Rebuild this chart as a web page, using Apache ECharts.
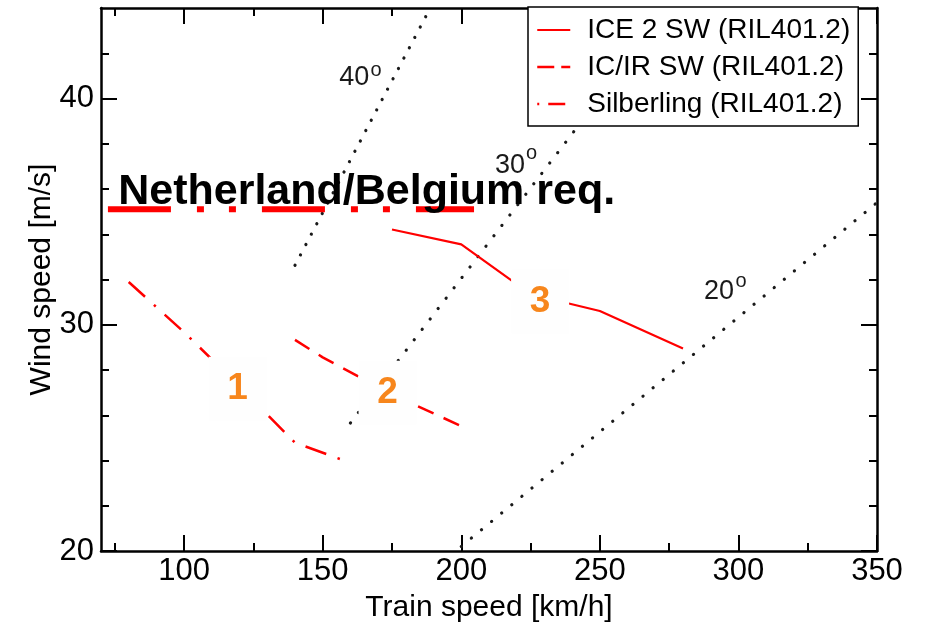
<!DOCTYPE html>
<html>
<head>
<meta charset="utf-8">
<script src="https://cdn.jsdelivr.net/npm/echarts@6/dist/echarts.min.js"></script>
<style>
  html, body { margin: 0; padding: 0; background: #fff; }
  #chart { width: 925px; height: 628px; }
</style>
</head>
<body>
<div id="chart"></div>
<script>
// Characteristic wind curves: train speed [km/h] vs. critical wind speed [m/s]
const iceSpeed  = [175, 200, 225, 250, 280];
const iceWind   = [34.21, 33.55, 31.35, 30.61, 28.95];
const icirSpeed = [140, 150, 175, 200];
const icirWind  = [29.33, 28.56, 26.92, 25.52];
const silbSpeed = [80, 100, 120, 140, 157];
const silbWind  = [31.89, 29.67, 27.27, 24.79, 24.03];

const seriesNames = ['ICE 2 SW (RIL401.2)', 'IC/IR SW (RIL401.2)', 'Silberling (RIL401.2)'];

// Constant yaw-angle reference lines: end points [speed, wind]
const yawAngles   = ['20', '30', '40'];
const yawStart    = [[200, 20.2], [160, 25.66], [140, 32.63]];
const yawEnd      = [[350, 35.4], [241, 38.6], [188.8, 44]];
const yawLabelPos = [[287.6, 31.45], [212.2, 37.04], [156.0, 40.92]];
const yawDegPos   = [[300.96, 31.90], [225.36, 37.58], [169.24, 41.26]];

// National requirement level
const reqSpeed = [72.5, 204.6];
const reqWind  = 35.1;
const reqText  = 'Netherland/Belgium req.';
const reqTextPos = [76.2, 35.85];

// Numbered region markers
const boxLabels = ['1', '2', '3'];
const boxSpeed  = [119.26, 173.39, 228.43];
const boxWind   = [27.17, 27.0, 31.03];

// Axis ticks
const xRange = [70, 350];
const yRange = [20, 44];
const xMajor = [100, 150, 200, 250, 300, 350];
const xMinor = [75, 125, 175, 225, 275, 325];
const yMajor = [20, 30, 40];
const yMinor = [22, 24, 26, 28, 32, 34, 36, 38, 42];

const FONT = 'Liberation Sans, Arial, Helvetica, sans-serif';
const RED = '#ff0000';
const ORANGE = '#f7861c';
const INK = '#1a1a1a';

const pairs = (xs, ys) => xs.map((x, i) => [x, ys[i]]);

function makeAxis(dim, pos, ticks, len, withLine, labels, extra) {
  const range = dim === 'x' ? xRange : yRange;
  return Object.assign({
    type: 'value',
    position: pos,
    min: range[0],
    max: range[1],
    axisLine: { show: withLine, lineStyle: { color: '#000', width: 2.5 } },
    axisTick: { show: true, inside: true, length: len, customValues: ticks,
                lineStyle: { color: '#000', width: 2 } },
    axisLabel: labels ? { show: true, customValues: labels, fontSize: 31, color: '#000',
                          fontFamily: FONT, margin: dim === 'x' ? 5 : 7 }
                      : { show: false },
    splitLine: { show: false }
  }, extra || {});
}

const xAxes = [
  makeAxis('x', 'bottom', xMajor, 16, true, xMajor, {
    name: 'Train speed [km/h]', nameLocation: 'middle', nameGap: 42, nameMoveOverlap: false,
    nameTextStyle: { fontSize: 30, color: '#000', fontFamily: FONT }
  }),
  makeAxis('x', 'bottom', xMinor, 8, false, null),
  makeAxis('x', 'top', xMajor, 16, true, null),
  makeAxis('x', 'top', xMinor, 8, false, null)
];
const yAxes = [
  makeAxis('y', 'left', yMajor, 16, true, yMajor, {
    name: 'Wind speed [m/s]', nameLocation: 'middle', nameGap: 44, nameMoveOverlap: false,
    nameTextStyle: { fontSize: 30, color: '#000', fontFamily: FONT }
  }),
  makeAxis('y', 'left', yMinor, 8, false, null),
  makeAxis('y', 'right', yMajor, 16, true, null),
  makeAxis('y', 'right', yMinor, 8, false, null)
];

const yawSeries = yawAngles.map((a, i) => ({
  type: 'line',
  name: 'yaw ' + a,
  data: [yawStart[i], yawEnd[i]],
  symbol: 'none',
  silent: true,
  z: 2,
  lineStyle: { color: INK, width: 3.2, type: [0.1, a === '40' ? 11.6 : 13], cap: 'round' }
}));

const curveStyles = [
  { width: 2.2, type: 'solid' },
  { width: 2.5, type: [17, 11] },
  { width: 2.5, type: [22, 12, 2.5, 12] }
];
// Shorter dash patterns for the legend samples
const legendDash = ['solid', [17, 7], [2, 9, 17, 20]];
const curveData = [pairs(iceSpeed, iceWind), pairs(icirSpeed, icirWind), pairs(silbSpeed, silbWind)];

const curveSeries = seriesNames.map((n, i) => ({
  type: 'line',
  name: n,
  data: curveData[i],
  symbol: 'none',
  z: 3,
  itemStyle: { color: RED },
  lineStyle: Object.assign({ color: RED, cap: 'butt' }, curveStyles[i])
}));

const textPoint = (text, pos, label) => ({ name: text, value: pos, label: Object.assign({
  show: true, position: 'inside', verticalAlign: 'middle', formatter: '{b}', fontFamily: FONT
}, label) });

const option = {
  animation: false,
  backgroundColor: '#fff',
  grid: { left: 101, right: 48, top: 8, bottom: 76 },
  xAxis: xAxes,
  yAxis: yAxes,
  legend: {
    data: seriesNames.map((n, i) => ({
      name: n,
      lineStyle: { type: legendDash[i], width: curveStyles[i].width, color: RED }
    })),
    orient: 'vertical',
    left: 528,
    top: 7,
    padding: [9, 8, 8, 8],
    itemGap: 9,
    itemWidth: 33,
    itemHeight: 28,
    borderColor: '#000',
    borderWidth: 1.5,
    backgroundColor: '#fff',
    z: 20,
    itemStyle: { opacity: 0 },
    textStyle: { fontSize: 28, color: '#000', fontFamily: FONT, lineHeight: 28, padding: [0, 0, 0, 12] }
  },
  series: [
    ...yawSeries,
    ...curveSeries,
    {
      type: 'scatter',
      name: 'markers',
      z: 4,
      silent: true,
      symbol: 'rect',
      symbolSize: [58, 64],
      itemStyle: { color: '#fefefe', opacity: 1 },
      label: {
        show: true, position: 'inside', formatter: '{b}',
        color: ORANGE, fontSize: 37, fontWeight: 'bold', fontFamily: FONT
      },
      data: boxLabels.map((b, i) => ({ name: b, value: [boxSpeed[i], boxWind[i]] }))
    },
    {
      type: 'line',
      name: 'requirement',
      z: 5,
      silent: true,
      symbol: 'none',
      data: reqSpeed.map(x => [x, reqWind]),
      lineStyle: { color: RED, width: 6, type: [63, 26, 7, 25, 7, 26], cap: 'butt' }
    },
    {
      type: 'scatter',
      name: 'notes',
      z: 6,
      silent: true,
      symbolSize: 0,
      itemStyle: { opacity: 1 },
      data: [
        ...yawAngles.map((a, i) => textPoint(a, yawLabelPos[i],
          { align: 'left', fontSize: 27, color: INK })),
        ...yawAngles.map((a, i) => textPoint('o', yawDegPos[i],
          { align: 'center', fontSize: 20, color: INK })),
        textPoint(reqText, reqTextPos,
          { align: 'left', fontSize: 43, fontWeight: 'bold', color: '#000' })
      ]
    }
  ]
};

const chart = echarts.init(document.getElementById('chart'), null, { renderer: 'canvas' });
chart.setOption(option);
</script>
</body>
</html>
